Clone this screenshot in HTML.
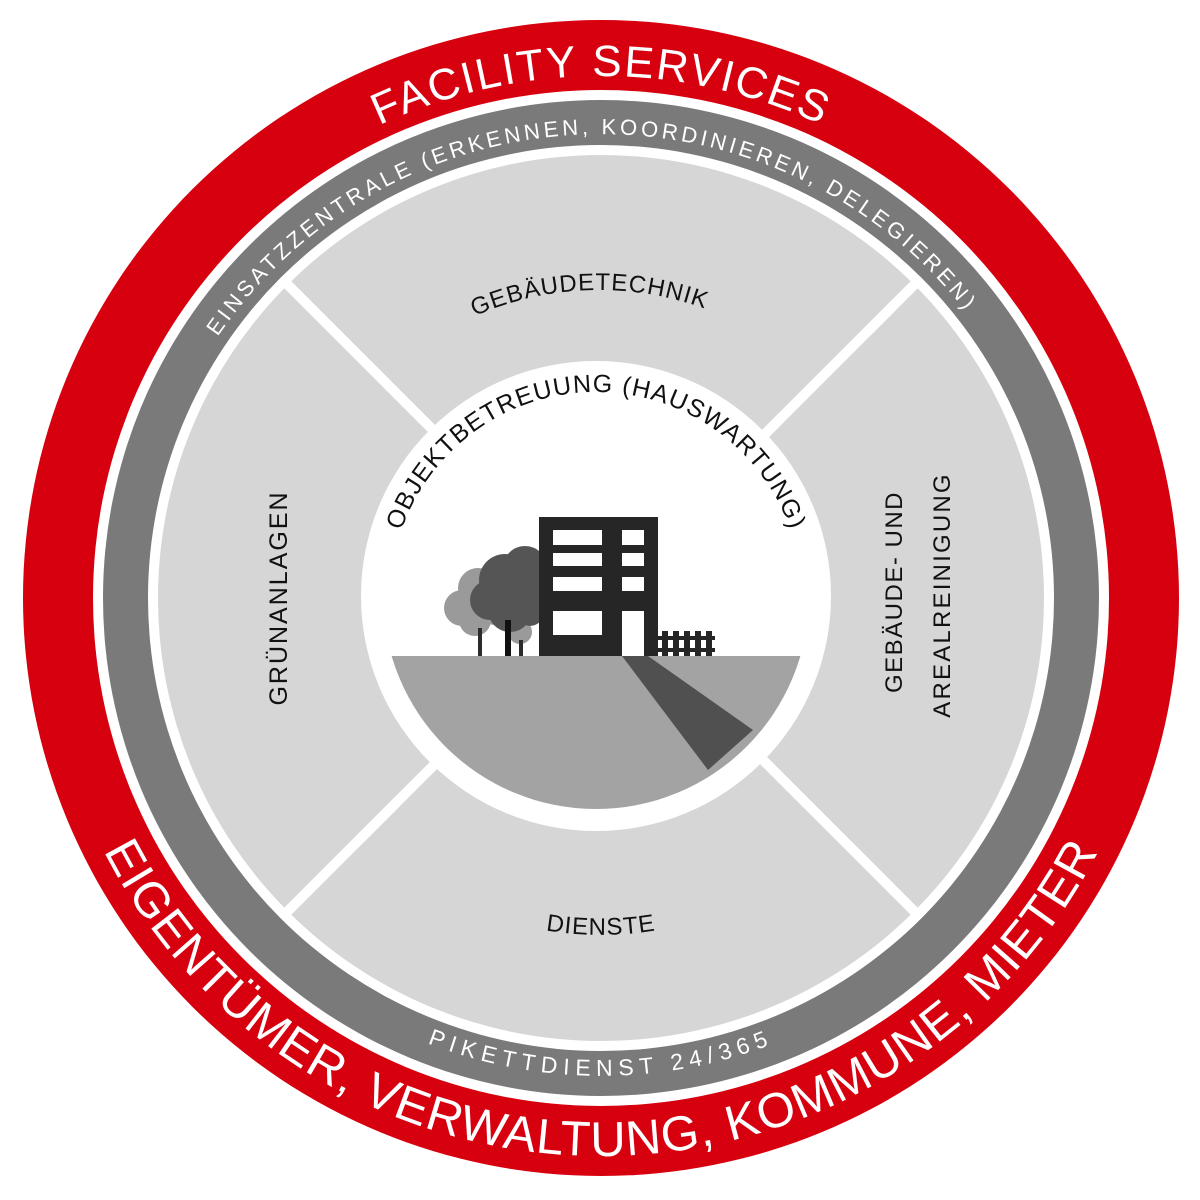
<!DOCTYPE html>
<html><head><meta charset="utf-8"><style>html,body{margin:0;padding:0;background:#fff}svg{display:block}</style></head>
<body>
<svg width="1200" height="1200" viewBox="0 0 1200 1200" xmlns="http://www.w3.org/2000/svg" font-family="Liberation Sans, DejaVu Sans, sans-serif">
<defs>
<path id="pTop1" d="M79,598 A522,522 0 0 1 1123,598"/>
<path id="pTop2" d="M137,598 A464,464 0 0 1 1065,598"/>
<path id="pBot1" d="M43,598 A558,558 0 0 0 1159,598"/>
<path id="pBot2" d="M123,598 A478,478 0 0 0 1079,598"/>
<path id="pObj" d="M390,598 A206,206 0 0 1 802,598"/>
<path id="pGeb" d="M291,598 A308,308 0 0 1 907,598"/>
<path id="pDie" d="M264,598 A337,337 0 0 0 938,598"/>
<clipPath id="gc"><circle cx="596" cy="596" r="213"/></clipPath>
</defs>
<circle cx="601" cy="598" r="578" fill="#d7000f"/>
<circle cx="601" cy="598" r="508" fill="#fff"/>
<circle cx="601" cy="598" r="498" fill="#7a7a7a"/>
<circle cx="601" cy="598" r="453" fill="#fff"/>
<circle cx="601" cy="598" r="443" fill="#d6d6d6"/>
<g stroke="#fff" stroke-width="10">
<line x1="601" y1="598" x2="284" y2="281"/>
<line x1="601" y1="598" x2="918" y2="281"/>
<line x1="601" y1="598" x2="284" y2="915"/>
<line x1="601" y1="598" x2="918" y2="915"/>
</g>
<circle cx="596" cy="596" r="235" fill="#fff"/>
<g clip-path="url(#gc)">
<rect x="380" y="656" width="440" height="200" fill="#a3a3a3"/>
<polygon points="622,656 648,656 753,730 708,770" fill="#505050"/>
</g>
<g fill="#9a9a9a">
<circle cx="462" cy="608" r="18"/><circle cx="478" cy="588" r="20"/><circle cx="495" cy="605" r="20"/><circle cx="475" cy="620" r="16"/><circle cx="520" cy="632" r="12"/>
</g>
<g fill="#555">
<circle cx="505" cy="580" r="26"/><circle cx="525" cy="568" r="22"/><circle cx="538" cy="595" r="18"/><circle cx="490" cy="600" r="20"/><circle cx="510" cy="610" r="22"/><circle cx="530" cy="612" r="14"/>
</g>
<rect x="478" y="628" width="4" height="28" fill="#2b2b2b"/>
<rect x="505" y="620" width="6" height="36" fill="#111"/>
<rect x="519" y="640" width="4" height="16" fill="#2b2b2b"/>
<rect x="539" y="517" width="119" height="139" fill="#262626"/>
<g fill="#fff">
<rect x="553" y="530" width="49" height="15"/><rect x="553" y="553" width="49" height="13"/><rect x="553" y="577" width="49" height="14"/><rect x="553" y="611" width="49" height="24"/>
<rect x="622" y="530" width="22" height="15"/><rect x="622" y="553" width="22" height="13"/><rect x="622" y="577" width="22" height="14"/><rect x="622" y="611" width="22" height="45"/>
</g>
<g fill="#262626">
<rect x="658" y="636" width="57" height="4"/><rect x="658" y="648" width="57" height="4"/>
<rect x="662" y="631" width="6" height="25"/><rect x="673" y="631" width="6" height="25"/><rect x="684" y="631" width="6" height="25"/><rect x="695" y="631" width="6" height="25"/><rect x="706" y="631" width="6" height="25"/>
</g>
<text fill="#fff" font-size="44" letter-spacing="2"><textPath href="#pTop1" startOffset="50%" text-anchor="middle">FACILITY SERVICES</textPath></text>
<text fill="#fff" font-size="22" letter-spacing="3.6"><textPath href="#pTop2" startOffset="49%" text-anchor="middle">EINSATZZENTRALE (ERKENNEN, KOORDINIEREN, DELEGIEREN)</textPath></text>
<text fill="#fff" font-size="49" letter-spacing="1"><textPath href="#pBot1" startOffset="50%" text-anchor="middle">EIGENTÜMER, VERWALTUNG, KOMMUNE, MIETER</textPath></text>
<text fill="#fff" font-size="23" letter-spacing="6"><textPath href="#pBot2" startOffset="50%" text-anchor="middle">PIKETTDIENST 24/365</textPath></text>
<text fill="#111" font-size="25" letter-spacing="1.2"><textPath href="#pObj" startOffset="50%" text-anchor="middle">OBJEKTBETREUUNG (HAUSWARTUNG)</textPath></text>
<text fill="#111" font-size="24" letter-spacing="1"><textPath href="#pGeb" startOffset="49%" text-anchor="middle">GEBÄUDETECHNIK</textPath></text>
<text fill="#111" font-size="24" letter-spacing="1"><textPath href="#pDie" startOffset="50%" text-anchor="middle">DIENSTE</textPath></text>
<text fill="#111" font-size="25" letter-spacing="2" text-anchor="middle" transform="translate(287,598) rotate(-90)">GRÜNANLAGEN</text>
<text fill="#111" font-size="24" letter-spacing="1.5" text-anchor="middle" transform="translate(902,592) rotate(-90)">GEBÄUDE- UND</text>
<text fill="#111" font-size="24" letter-spacing="2.2" text-anchor="middle" transform="translate(950,595) rotate(-90)">AREALREINIGUNG</text>
</svg>
</body></html>
